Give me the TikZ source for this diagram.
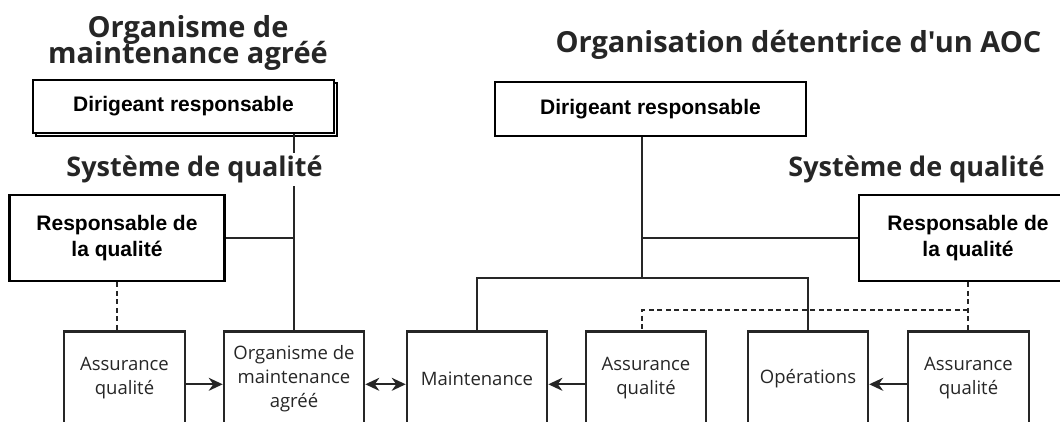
\documentclass[tikz,border=0pt]{standalone}
\usepackage{fontspec}
\newfontfamily\titlefont{Open Sans}
\newfontfamily\headfont{Liberation Sans}
\usetikzlibrary{arrows.meta,shadows}
\definecolor{ink}{HTML}{262626}

\begin{document}
\begin{tikzpicture}[x=1pt,y=-1pt,
  >={Stealth[length=14pt,width=13pt]},
  heading/.style={font=\titlefont\bfseries\fontsize{29}{21}\selectfont,text=ink,align=center,inner sep=0pt},
  headbox/.style={draw,line width=2.8pt,fill=white,font=\headfont\bfseries\fontsize{21}{26}\selectfont,align=center},
  unitbox/.style={draw=ink,line width=2.6pt,anchor=north,minimum height=94pt,font=\titlefont\fontsize{18.5}{24}\selectfont,text=ink,align=center},
  link/.style={draw=ink,line width=2.2pt},
  qline/.style={link,dash pattern=on 5pt off 3.5pt}]
  \path[use as bounding box,clip] (0,0) rectangle (1060,422);

  \node[heading,anchor=base] (orgL) at (188,64) {Organisme de\\[-4pt]maintenance agréé};
  \node[heading,anchor=base] (orgR) at (798.5,53) {Organisation détentrice d'un AOC};

  \node[headbox,copy shadow={shadow xshift=3pt,shadow yshift=-3pt},minimum width=301pt,minimum height=53pt] (dirL) at (183.5,106.5) {Dirigeant responsable};
  \node[headbox,minimum width=311pt,minimum height=54pt] (dirR) at (650.5,109) {Dirigeant responsable};
  \node[headbox,minimum width=215pt,minimum height=86pt] (respL) at (117,238) {Responsable de\\la qualité};
  \node[headbox,minimum width=218pt,minimum height=86pt] (respR) at (968,238) {Responsable de\\la qualité};

  \node[unitbox,minimum width=121pt] (aqL) at (124.5,330) {Assurance\\qualité};
  \node[unitbox,minimum width=140pt] (oma) at (294,330) {Organisme de\\maintenance\\agréé};
  \node[unitbox,minimum width=140pt] (maint) at (477,330) {Maintenance};
  \node[unitbox,minimum width=120pt] (aqM) at (646,330) {Assurance\\qualité};
  \node[unitbox,minimum width=120pt] (ops) at (808,330) {Opérations};
  \node[unitbox,minimum width=121pt] (aqR) at (968.5,330) {Assurance\\qualité};

  \coordinate (hub) at (642,278);
  \coordinate (dq) at (642,310);

  \draw[link] (dirL.south -| oma.north) -- (oma.north);
  \draw[link] (respL.east) -- (respL.east -| oma.north);
  \draw[qline] (respL.south) -- (respL.south |- aqL.north);

  \draw[link] (dirR.south -| hub) -- (hub);
  \draw[link] (maint.north) |- (hub) -| (ops.north);
  \draw[link] (respR.west) -- (respR.west -| hub);
  \draw[qline] (respR.south) -- (respR.south |- aqR.north);
  \draw[qline] (respR.south |- dq) -- (dq) -- (dq |- aqM.north);

  \draw[link,->] ([yshift=-6pt]aqL.east) -- ([yshift=-6pt]oma.west);
  \draw[link,<->] ([yshift=-6pt]oma.east) -- ([yshift=-6pt]maint.west);
  \draw[link,->] ([yshift=-6pt]aqM.west) -- ([yshift=-6pt]maint.east);
  \draw[link,->] ([yshift=-6pt]aqR.west) -- ([yshift=-6pt]ops.east);

  \node[heading,anchor=base,fill=white,inner sep=3pt,font=\titlefont\bfseries\fontsize{27}{21}\selectfont] (sysL) at (194.5,177) {Système de qualité};
  \node[heading,anchor=base,font=\titlefont\bfseries\fontsize{27}{21}\selectfont] (sysR) at (916.5,177) {Système de qualité};
\end{tikzpicture}
\end{document}
